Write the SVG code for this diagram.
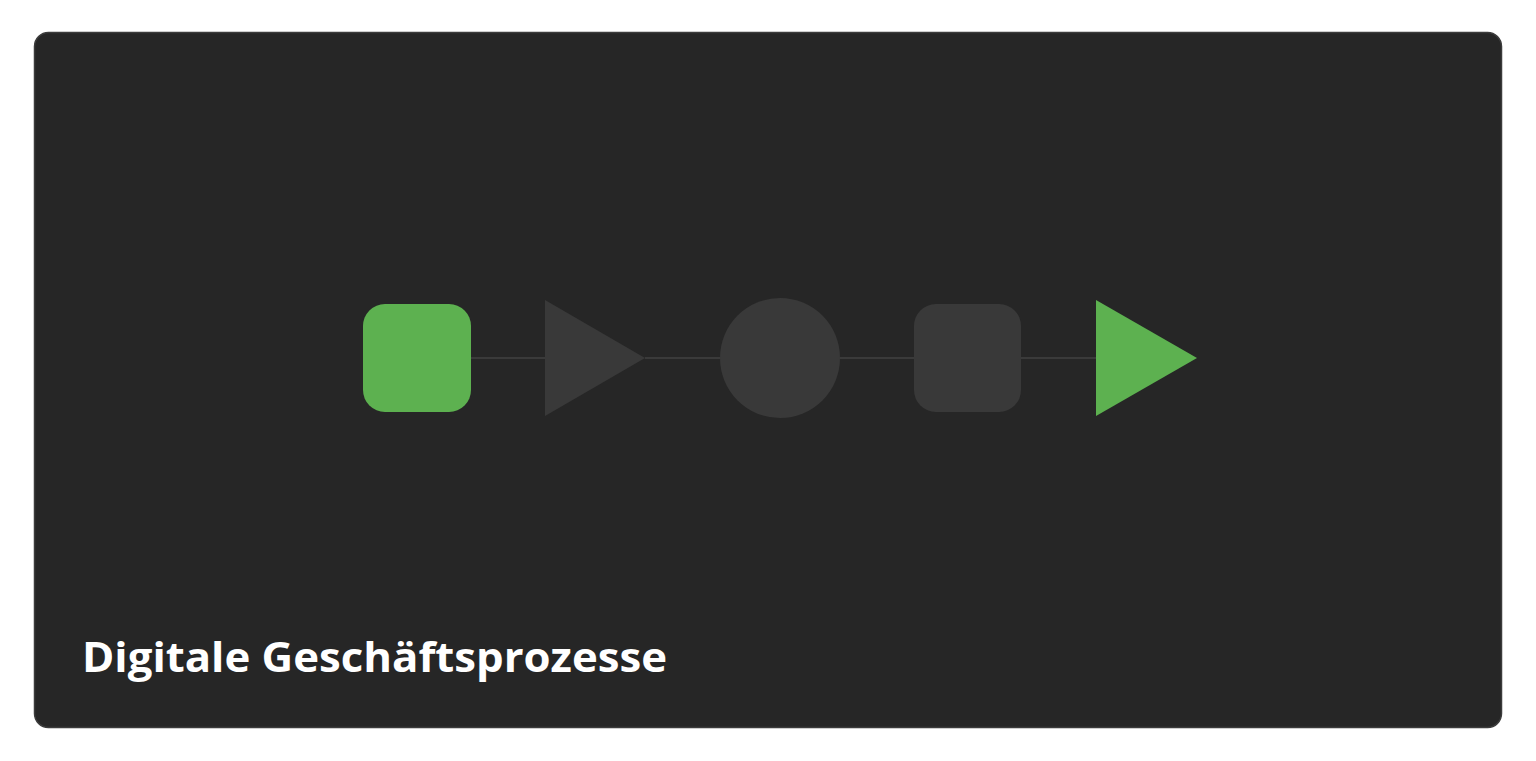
<svg xmlns="http://www.w3.org/2000/svg" width="1536" height="761" viewBox="0 0 1536 761">
<style>
.card{fill:#262626;stroke:#3c3c3c;stroke-width:1.5}
.green{fill:#5db150}
.gray{fill:#393939}
.conn{stroke:#3a3a3a;stroke-width:2;fill:none}
.title{font-family:"Open Sans","Inter","Liberation Sans",sans-serif;font-weight:700;font-size:42px;fill:#ffffff}
</style>
<rect x="0" y="0" width="1536" height="761" fill="#ffffff"/>
<rect class="card" x="34.5" y="32.5" width="1467" height="695" rx="14"/>
<g id="connectors">
<line class="conn" x1="471" y1="358" x2="545" y2="358"/>
<line class="conn" x1="645" y1="358" x2="720" y2="358"/>
<line class="conn" x1="840" y1="358" x2="914" y2="358"/>
<line class="conn" x1="1021" y1="358" x2="1096" y2="358"/>
</g>
<g id="node1"><rect class="green" x="363" y="304" width="108" height="108" rx="22"/></g>
<g id="node2"><polygon class="gray" points="545,300 645,358 545,416"/></g>
<g id="node3"><circle class="gray" cx="780" cy="358" r="60"/></g>
<g id="node4"><rect class="gray" x="914" y="304" width="107" height="108" rx="22"/></g>
<g id="node5"><polygon class="green" points="1096,300 1197,358 1096,416"/></g>
<g id="title"><text class="title" x="82" y="672" textLength="585" lengthAdjust="spacingAndGlyphs">Digitale Geschäftsprozesse</text></g>
</svg>
